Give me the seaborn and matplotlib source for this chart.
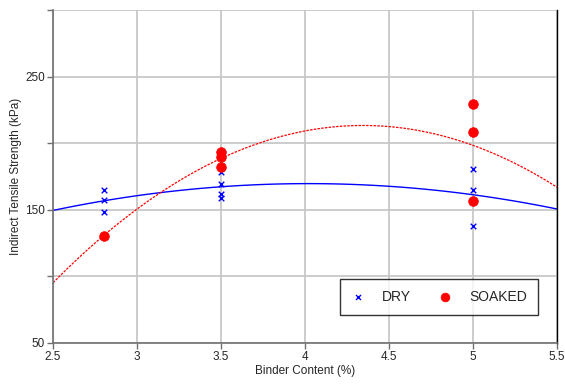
import numpy as np
import pandas as pd
import matplotlib
matplotlib.use("Agg")
import matplotlib.pyplot as plt
import seaborn as sns
from matplotlib.ticker import MultipleLocator

# binder content (%) and indirect tensile strength (kPa)
dry_binder = [2.8, 2.8, 2.8, 3.5, 3.5, 3.5, 3.5, 5.0, 5.0, 5.0]
dry_its = [165, 157, 148, 178.6, 169.5, 162, 159, 180.8, 165, 138]

soaked_binder = [2.8, 3.5, 3.5, 3.5, 5.0, 5.0, 5.0]
soaked_its = [130.5, 193.6, 189.8, 182.3, 229.7, 208.6, 156.8]

dry = pd.DataFrame({'Binder': dry_binder, 'ITS': dry_its})
soaked = pd.DataFrame({'Binder': soaked_binder, 'ITS': soaked_its})

sns.set_theme(style="white")
plt.rcParams['font.family'] = ['Liberation Sans', 'DejaVu Sans']

fig = plt.figure(figsize=(5.65, 3.87), dpi=100)
ax = fig.add_axes([0.094, 0.114, 0.892, 0.86])
ax.set_xlim(2.5, 5.5)
ax.set_ylim(50, 300)

# quadratic trend lines across the full x range
sns.regplot(data=dry, x='Binder', y='ITS', order=2, ci=None, truncate=False,
            scatter=False, ax=ax, line_kws={'color': 'blue', 'lw': 1.0})
sns.regplot(data=soaked, x='Binder', y='ITS', order=2, ci=None, truncate=False,
            scatter=False, ax=ax, line_kws={'color': 'red', 'lw': 0.9, 'ls': (0, (2, 1))})

sns.scatterplot(data=dry, x='Binder', y='ITS', marker='x', color='blue', s=16,
                linewidth=1.0, ax=ax, label='DRY', zorder=4)
sns.scatterplot(data=soaked, x='Binder', y='ITS', marker='o', color='red', s=48,
                edgecolor='red', ax=ax, label='SOAKED', zorder=4)

ax.xaxis.set_major_locator(MultipleLocator(0.5))
ax.xaxis.set_major_formatter(plt.FuncFormatter(lambda v, p: f'{v:g}'))
ax.yaxis.set_minor_locator(MultipleLocator(50))
ax.set_yticks([50, 150, 250])
ax.grid(True, which='both', color='#c4c4c4', lw=1.2)
ax.set_axisbelow(True)

ax.tick_params(axis='both', which='both', direction='out', length=4, width=1,
               color='#707070', labelsize=8.5, pad=2, left=True, bottom=True)

for side in ['left', 'bottom']:
    ax.spines[side].set_color('#707070')
    ax.spines[side].set_linewidth(1.2)
ax.spines['right'].set_color('black')
ax.spines['right'].set_linewidth(1.0)
ax.spines['top'].set_visible(False)

ax.set_xlabel('Binder Content (%)', fontsize=8.5, labelpad=1)
ax.set_ylabel('Indirect Tensile Strength (kPa)', fontsize=8.5, labelpad=2)

leg = ax.legend(ncol=2, loc='lower left', bbox_to_anchor=(0.569, 0.084),
                borderaxespad=0, fontsize=10, frameon=True, fancybox=False,
                borderpad=0.8, handlelength=1.0, handletextpad=1.2,
                columnspacing=2.0, markerscale=0.9)
leg.get_frame().set_edgecolor('black')
leg.get_frame().set_linewidth(1.0)

fig.savefig('out.png', dpi=100)
